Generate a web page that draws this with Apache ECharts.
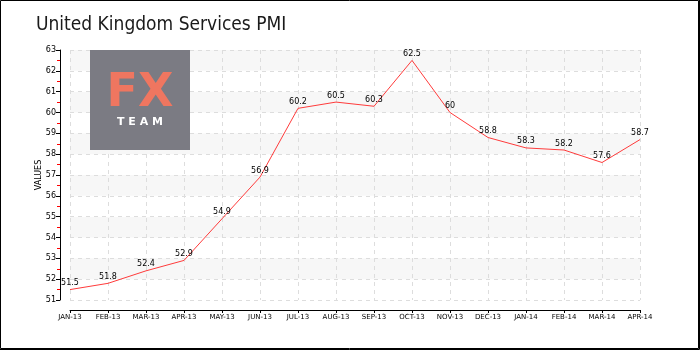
<!DOCTYPE html>
<html>
<head>
<meta charset="utf-8">
<script src="https://cdn.jsdelivr.net/npm/echarts@6/dist/echarts.min.js"></script>
<style>
  html, body { margin: 0; padding: 0; background: #fff; }
  #chart { width: 700px; height: 350px; }
</style>
</head>
<body>
<div id="chart"></div>
<script>
// Monthly UK services PMI readings
const months = ['JAN-13', 'FEB-13', 'MAR-13', 'APR-13', 'MAY-13', 'JUN-13', 'JUL-13', 'AUG-13',
                'SEP-13', 'OCT-13', 'NOV-13', 'DEC-13', 'JAN-14', 'FEB-14', 'MAR-14', 'APR-14'];
const pmiValues = [51.5, 51.8, 52.4, 52.9, 54.9, 56.9, 60.2, 60.5, 60.3, 62.5, 60, 58.8, 58.3, 58.2, 57.6, 58.7];
const yMin = 51;
const yMax = 63;
const yStep = 1;

const smallFont = 'DejaVu Sans';

const chart = echarts.init(document.getElementById('chart'), null, { renderer: 'canvas' });

chart.setOption({
  animation: false,
  backgroundColor: '#ffffff',
  title: {
    text: 'United Kingdom Services PMI',
    left: 31,
    top: 11,
    textStyle: {
      fontFamily: '"DejaVu Sans Condensed", "Liberation Sans Narrow", Roboto, sans-serif',
      fontSize: 19,
      fontWeight: 'normal',
      color: '#1a1a1a'
    }
  },
  grid: { left: 70, right: 60, top: 50, bottom: 50 },
  xAxis: {
    type: 'category',
    data: months,
    boundaryGap: false,
    offset: 10,
    axisLine: { lineStyle: { color: '#000', width: 1 } },
    axisTick: { show: true, length: 3, interval: 0, lineStyle: { color: '#000' } },
    axisLabel: { interval: 0, fontFamily: smallFont, fontSize: 7, color: '#000', margin: 4 },
    splitLine: { show: true, interval: 0, lineStyle: { color: '#dddddd', type: [4, 4], width: 1 } }
  },
  yAxis: {
    type: 'value',
    min: yMin,
    max: yMax,
    interval: yStep,
    offset: 10,
    name: 'VALUES',
    nameLocation: 'middle',
    nameGap: 17,
    nameMoveOverlap: false,
    nameTextStyle: { fontFamily: smallFont, fontSize: 8, color: '#000' },
    axisLine: { show: true, lineStyle: { color: '#000', width: 1 } },
    axisTick: { show: true, length: 4, lineStyle: { color: '#000' } },
    minorTick: { show: true, splitNumber: 2, length: 3, lineStyle: { color: '#ff0000' } },
    axisLabel: { fontFamily: smallFont, fontSize: 8, color: '#000', margin: 4 },
    splitLine: { show: true, lineStyle: { color: '#dddddd', type: [4, 4], width: 1 } },
    splitArea: { show: true, areaStyle: { color: ['#ffffff', '#f7f7f7'] } }
  },
  series: [{
    type: 'line',
    data: pmiValues,
    showSymbol: true,
    symbol: 'circle',
    symbolSize: 1,
    itemStyle: { color: 'rgba(255,59,59,0)', borderWidth: 0 },
    lineStyle: { color: '#ff3b3b', width: 1 },
    label: {
      show: true,
      position: 'top',
      distance: 2,
      fontFamily: smallFont,
      fontSize: 8,
      color: '#000'
    },
    z: 3
  }],
  graphic: [
    // FX TEAM badge
    {
      type: 'rect', z: 10, silent: true,
      shape: { x: 90, y: 50, width: 100, height: 100 },
      style: { fill: '#7b7b83' }
    },
    {
      type: 'text', z: 11, silent: true, x: 140, y: 94,
      style: {
        text: 'FX', fill: '#ef7660',
        fontFamily: 'DejaVu Sans', fontSize: 46, fontWeight: 'bold',
        align: 'center', verticalAlign: 'middle'
      }
    },
    {
      type: 'text', z: 11, silent: true, x: 140, y: 122,
      style: {
        text: 'T E A M', fill: '#ffffff',
        fontFamily: 'DejaVu Sans', fontSize: 11, fontWeight: 'bold',
        align: 'center', verticalAlign: 'middle'
      }
    },
    // Outer frame
    {
      type: 'rect', z: 20, silent: true,
      shape: { x: 0.5, y: 0.5, width: 698, height: 348 },
      style: { fill: 'none', stroke: '#000', lineWidth: 1 }
    },
    {
      type: 'polyline', z: 20, silent: true,
      shape: { points: [[699.5, 0], [699.5, 349.5], [0, 349.5]] },
      style: { fill: 'none', stroke: '#000', lineWidth: 1 }
    }
  ]
});
</script>
</body>
</html>
